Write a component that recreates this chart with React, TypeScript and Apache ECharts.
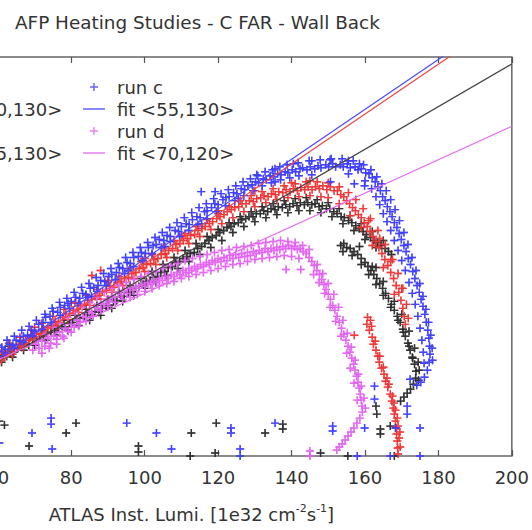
import React, { useEffect, useRef } from "react";
import * as echarts from "echarts";

const FONT = "DejaVu Sans";
const TITLE = "AFP Heating Studies - C FAR - Wall Back";
const X_NAME = "ATLAS Inst. Lumi. [1e32 cm{sup|-2}s{sup|-1}]";
const X_MIN = 20;
const X_MAX = 200;
const X_STEP = 20;
const Y_MIN = 0;
const Y_MAX = 40;

const LEGEND_LEFT = ["run a", "fit <60,130>", "run b", "fit <65,130>"];
const LEGEND_RIGHT = ["run c", "fit <55,130>", "run d", "fit <70,120>"];

// fit lines: value at x = 20 and x = 200
const FIT_X = [20, 200];
const FIT_A = [0.82, 39.3];
const FIT_B = [-0.73, 44.28];
const FIT_C = [-0.25, 44.75];
const FIT_D = [2.92, 33.05];

// run a (black)
const RUN_A: number[][] = [
  [55.2,9.0],[56.3,9.3],[57.4,9.2],[58.5,9.6],[59.3,9.5],[60.4,9.9],[61.5,10.1],[62.4,10.0],[63.5,10.5],[64.3,10.4],
  [65.5,10.8],[66.4,10.9],[67.5,11.2],[68.4,11.1],[69.5,11.6],[70.4,11.7],[71.5,11.9],[72.4,12.0],[73.5,12.3],[74.4,12.4],
  [75.5,12.6],[76.4,12.8],[77.5,13.0],[78.4,12.9],[79.5,13.3],[80.4,13.4],[81.5,13.6],[82.4,13.8],[83.5,13.9],[84.4,14.2],
  [85.5,14.1],[86.4,14.5],[87.5,14.4],[88.4,14.8],[89.5,15.0],[90.4,15.1],[91.5,15.5],[92.4,15.6],[93.5,15.9],[94.4,16.0],
  [95.5,16.4],[96.4,16.5],[97.5,16.8],[98.4,17.0],[99.5,17.2],[100.4,17.5],[101.5,17.6],[102.4,17.9],[103.5,18.0],[104.4,18.4],
  [105.5,18.5],[106.4,18.9],[107.5,19.0],[108.4,19.4],[109.5,19.5],[110.4,19.8],[111.5,20.0],[112.4,20.3],[113.5,20.4],[114.4,20.8],
  [115.5,21.0],[116.4,21.3],[117.5,21.6],[118.4,21.9],[119.5,22.1],[120.4,22.4],[121.5,22.6],[122.4,22.9],[123.5,23.0],[124.4,23.3],
  [125.5,23.4],[126.4,23.7],[127.5,23.8],[128.4,24.0],[129.5,24.0],[130.4,24.3],[131.5,24.3],[132.4,24.6],[133.5,24.5],[134.4,24.8],
  [135.5,24.7],[136.4,25.0],[137.5,24.9],[138.4,25.2],[139.5,25.0],[140.4,25.3],[141.5,25.1],[142.4,25.4],[143.5,25.2],[144.4,25.4],
  [145.5,25.2],[146.4,25.3],[147.5,25.0],[148.4,25.1],[149.5,24.8],[150.4,24.8],[151.5,24.5],[152.4,24.3],[153.5,24.0],[154.4,23.9],
  [155.5,23.6],[156.4,23.4],[157.5,23.1],[158.4,22.8],[159.5,22.5],[160.4,22.2],[161.5,21.9],[162.4,21.6],[163.5,21.4],[164.4,21.1],
  [165.5,20.8],[166.4,20.5],[167.2,20.2],
  [57.0,9.8],[60.0,10.4],[63.0,11.0],[66.0,11.5],[69.0,12.1],[72.0,12.6],[75.0,13.1],[78.0,13.6],[81.0,14.1],[84.0,14.7],
  [87.0,15.1],[90.0,15.7],[93.0,16.4],[96.0,17.1],[99.0,17.8],[102.0,18.5],[105.0,19.2],[108.0,19.9],[111.0,20.6],[114.0,21.3],
  [117.0,22.0],[120.0,22.7],[123.0,23.4],[126.0,24.0],[129.0,24.5],[132.0,25.0],[135.0,25.3],[138.0,25.6],[141.0,25.8],[144.0,25.9],
  [147.0,25.7],[150.0,25.4],[153.0,24.8],[156.0,24.1],[159.0,23.3],[162.0,22.5],[165.0,21.6],
  [58.0,8.8],[61.0,9.4],[64.0,9.9],[67.0,10.6],[70.0,11.1],[73.0,11.6],[76.0,12.1],[79.0,12.6],[82.0,13.1],[85.0,13.6],
  [88.0,14.1],[91.0,14.8],[94.0,15.5],[97.0,16.1],[100.0,16.8],[103.0,17.4],[106.0,18.1],[109.0,18.8],[112.0,19.5],[115.0,20.2],
  [118.0,20.9],[121.0,21.6],[124.0,22.4],[127.0,23.0],[130.0,23.5],[133.0,23.9],[136.0,24.2],[139.0,24.4],[142.0,24.6],[145.0,24.6],
  [148.0,24.4],[151.0,24.0],[154.0,23.3],[157.0,22.6],[160.0,21.7],[163.0,20.9],
  [153.4,21.1],[154.2,21.3],[155.0,20.9],[156.0,20.8],[157.0,20.5],[158.0,20.2],[159.0,19.8],[160.0,19.4],[160.8,19.0],[161.6,18.6],
  [162.4,18.2],[163.2,17.8],[164.0,17.3],[164.8,16.8],[165.6,16.3],[166.4,15.8],[167.2,15.2],[168.0,14.6],[168.8,14.0],[169.6,13.4],
  [170.3,12.7],[171.0,12.0],[171.7,11.3],[172.3,10.6],[172.9,9.9],[173.5,9.2],[173.9,8.5],[173.8,7.8],[173.2,7.2],[172.4,6.7],
  [171.5,6.3],[170.6,5.9],[169.7,5.5],[162.0,19.0],[165.0,17.5],[168.0,15.5],[170.0,14.2],[172.0,12.5],[173.5,10.8],[174.5,9.4],
  [158.5,21.0],[163.0,18.9],[154.0,20.5],[156.5,20.1],[159.0,19.2],[161.0,18.2],[163.0,17.2],[165.0,16.1],[167.0,14.9],[169.0,13.6],
  [170.5,12.4],[172.0,11.0],[173.0,9.8],[174.8,8.6],[174.6,7.6],
  [163.0,5.0],[163.2,4.2],
  [60.4,3.5],[61.8,3.1],[68.5,1.0],[78.6,2.3],[81.3,3.3],[98.3,1.0],[98.3,0.4],[112.7,2.3],[112.4,0.0],[119.5,3.3],
  [119.2,0.3],[132.8,2.3],[137.6,3.2],[137.6,2.7],[147.9,0.3],[155.3,0.0],[164.2,2.7],[166.9,3.0],[168.0,0.0],[164.2,2.2],
];

// run b (red)
const RUN_B: number[][] = [
  [55.3,9.0],[56.5,9.4],[57.4,9.3],[58.6,9.8],[59.5,9.7],[60.4,10.2],[61.6,10.4],[62.5,10.3],[63.6,10.8],[64.4,10.7],
  [65.6,11.2],[66.5,11.1],[67.6,11.6],[68.5,11.8],[69.6,12.0],[70.5,12.3],[71.6,12.2],[72.5,12.7],[73.6,12.9],[74.5,13.0],
  [75.6,13.5],[76.5,13.4],[77.6,13.9],[78.5,14.2],[79.6,14.3],[80.5,14.6],[81.6,14.7],[82.5,15.1],[83.6,15.2],[84.5,15.6],
  [85.6,15.7],[86.5,16.0],[87.6,16.1],[88.5,16.5],[89.6,16.6],[90.5,17.0],[91.6,16.9],[92.5,17.4],[93.6,17.5],[94.5,17.8],
  [95.6,17.9],[96.5,18.3],[97.6,18.4],[98.5,18.8],[99.6,18.9],[100.5,19.2],[101.6,19.3],[102.5,19.7],[103.6,19.8],[104.5,20.2],
  [105.6,20.3],[106.5,20.6],[107.6,20.8],[108.5,21.2],[109.6,21.3],[110.5,21.6],[111.6,21.8],[112.5,22.1],[113.6,22.2],[114.5,22.6],
  [115.6,22.8],[116.5,23.0],[117.6,23.3],[118.5,23.5],[119.6,23.8],[120.5,24.0],[121.6,24.2],[122.5,24.5],[123.6,24.7],[124.5,24.9],
  [125.6,25.0],[126.5,25.3],[127.6,25.3],[128.5,25.6],[129.6,25.5],[130.5,25.8],[131.6,25.9],[132.5,26.1],[133.6,26.0],[134.5,26.3],
  [135.6,26.2],[136.5,26.5],[137.6,26.4],[138.5,26.7],[139.6,26.5],[140.5,26.8],[141.6,26.6],[142.5,26.9],[143.6,26.7],[144.5,27.0],
  [145.6,26.7],[146.5,27.0],[147.6,26.8],[148.5,27.1],[149.6,26.7],[150.5,27.0],[151.6,26.6],[152.5,26.6],[153.4,26.2],[154.2,26.0],
  [155.0,25.6],[155.8,25.3],[156.6,24.9],[157.4,24.6],[158.2,24.2],[159.0,23.9],[159.8,23.4],[160.6,23.0],[161.4,22.5],[162.2,22.0],
  [163.0,21.5],[163.8,20.9],[164.6,20.3],[165.4,19.7],[166.2,19.1],[167.0,18.4],[167.8,17.8],[168.5,17.1],[169.2,16.4],[169.8,15.6],
  [170.3,14.8],[170.7,14.0],[171.0,13.2],
  [150.0,25.9],[153.0,25.3],[156.0,24.1],[159.0,22.9],[162.0,21.1],[165.0,18.9],[168.0,16.2],[161.0,23.6],[164.0,21.8],[167.0,19.5],
  [170.0,16.8],[130.0,26.6],[140.0,27.4],[145.0,27.6],[120.0,24.6],[110.0,22.1],[100.0,19.8],[90.0,17.6],[80.0,15.3],[70.0,12.9],
  [57.0,9.9],[60.0,10.6],[63.0,11.3],[66.0,11.9],[69.0,12.6],[72.0,13.3],[75.0,14.0],[78.0,14.7],[81.0,15.4],[84.0,16.1],
  [87.0,16.7],[90.0,17.4],[93.0,18.0],[96.0,18.8],[99.0,19.5],[102.0,20.2],[105.0,20.9],[108.0,21.6],[111.0,22.3],[114.0,23.0],
  [117.0,23.7],[120.0,24.3],[123.0,25.0],[126.0,25.6],[129.0,26.1],[132.0,26.5],[135.0,26.8],[138.0,27.1],[141.0,27.3],[144.0,27.5],
  [147.0,27.5],[150.0,27.4],[153.0,27.0],[155.5,26.4],[157.5,25.7],[159.5,24.8],[161.5,23.8],[163.5,22.6],[165.5,21.2],[167.5,19.7],
  [169.0,18.3],[170.3,16.8],[171.3,15.2],[171.8,13.8],
  [58.0,8.9],[61.0,9.6],[64.0,10.2],[67.0,10.9],[70.0,11.6],[73.0,12.3],[76.0,13.0],[79.0,13.7],[82.0,14.4],[85.0,15.1],
  [88.0,15.7],[91.0,16.4],[94.0,17.1],[97.0,17.8],[100.0,18.5],[103.0,19.2],[106.0,19.9],[109.0,20.6],[112.0,21.3],[115.0,22.0],
  [118.0,22.7],[121.0,23.3],[124.0,23.9],[127.0,24.5],[130.0,25.0],[133.0,25.4],[136.0,25.7],[139.0,25.9],[142.0,26.0],[145.0,26.1],
  [148.0,26.0],
  [85.6,18.1],[88.0,18.6],[157.1,12.1],
  [160.7,13.9],[160.5,13.2],[161.2,12.6],[161.5,13.6],[162.0,11.9],[162.3,11.2],[163.0,10.6],[163.5,10.0],[163.9,9.4],[164.5,8.8],
  [165.2,8.2],[165.6,7.5],[166.2,6.9],[166.9,6.2],[167.3,5.5],[167.7,4.8],[168.0,4.2],[168.3,3.5],[168.5,2.8],[168.6,2.2],
  [168.8,1.5],[168.9,0.8],[169.0,0.2],[166.0,7.8],[167.5,6.0],[168.3,4.6],[169.0,3.0],[169.3,1.8],
  [161.8,13.0],[162.8,11.5],[164.0,10.0],[165.0,8.9],[166.5,7.2],[167.9,5.3],[168.8,3.8],[169.5,2.4],[169.6,0.9],
];

// run c (blue)
const RUN_C: number[][] = [
  [55.2,9.5],[56.4,9.6],[57.1,10.0],[58.3,9.9],[59.0,10.4],[60.2,10.5],[61.1,10.9],[62.0,10.7],[63.2,11.2],[64.1,11.1],
  [65.0,11.6],[66.2,11.5],[67.0,12.0],[68.1,12.1],[69.2,12.6],[70.0,12.5],[71.1,13.2],[72.3,13.4],[73.0,13.9],[74.2,14.0],
  [75.1,14.5],[76.3,14.4],[77.0,14.9],[78.2,15.1],[79.1,15.3],[80.0,15.5],[81.2,15.9],[82.3,15.8],[83.1,16.3],[84.0,16.2],
  [85.2,16.8],[86.1,16.9],[87.3,17.1],[88.0,17.6],[89.1,17.5],[90.2,18.0],[91.0,18.2],[92.3,18.4],[93.1,18.9],[94.0,18.8],
  [95.2,19.4],[96.1,19.3],[97.0,19.9],[98.3,20.0],[99.1,20.4],[100.2,20.3],[101.0,20.9],[102.3,21.1],[103.1,21.2],[104.0,21.7],
  [105.2,21.6],[106.1,22.1],[107.0,22.0],[108.3,22.6],[109.2,22.5],[110.0,23.0],[111.3,23.3],[112.1,23.2],[113.0,23.7],[114.2,24.0],
  [115.1,23.9],[116.3,24.5],[117.0,24.6],[118.2,24.9],[119.1,25.3],[120.0,25.2],[121.3,25.7],[122.1,25.9],[123.0,26.0],[124.2,26.4],
  [125.1,26.3],[126.3,26.8],[127.2,26.7],[128.1,27.1],[129.3,27.2],[130.2,27.5],[131.0,27.4],[132.3,27.8],[133.1,27.7],[134.2,28.1],
  [135.0,28.0],[136.2,28.3],[137.1,28.2],[138.3,28.5],[139.0,28.4],[140.2,28.7],[141.1,28.5],[142.3,28.8],[143.0,28.9],[144.2,28.7],
  [145.1,29.0],[146.3,28.8],[147.2,29.1],[148.0,28.9],[149.3,29.2],[150.1,29.0],[151.2,29.3],[152.0,29.0],[153.3,29.2],[154.1,29.0],
  [155.2,29.3],[156.0,28.9],[157.3,29.0],[158.1,28.7],[159.0,28.8],[160.2,28.4],[161.1,28.3],[162.0,27.9],[162.8,27.5],[163.5,27.0],
  [164.2,26.6],[164.8,26.0],[165.5,25.6],[166.1,25.0],[166.8,24.5],[167.4,24.0],[168.0,23.4],[168.7,22.9],[169.3,22.3],[169.9,21.7],
  [170.6,21.1],[171.2,20.5],[171.8,19.8],[172.4,19.2],[173.0,18.5],[173.6,17.8],[174.2,17.1],[174.8,16.4],[175.3,15.7],[175.8,15.0],
  [176.3,14.2],[176.7,13.4],[177.1,12.6],[177.4,11.8],[177.6,11.0],[177.7,10.2],[177.5,9.4],[177.0,8.6],[176.2,7.9],[175.2,7.4],
  [174.1,7.1],
  [160.0,27.6],[161.8,26.8],[163.0,26.0],[164.0,25.2],[165.0,24.3],[166.0,23.5],[167.0,22.6],[168.0,21.6],[169.0,20.6],[170.0,19.6],
  [171.0,18.6],[172.0,17.4],[172.9,16.3],[173.7,15.2],[174.4,14.0],[175.0,12.8],[175.5,11.6],[175.9,10.4],[176.1,9.3],
  [130.5,28.2],[135.5,28.8],[140.5,29.3],[145.5,29.6],[150.5,29.7],[155.5,29.6],[158.5,29.3],
  [85.5,16.0],[95.5,18.6],[105.5,21.0],[115.5,23.3],[125.5,25.8],[135.5,27.5],[145.5,28.2],[155.5,28.3],
  [56.0,10.2],[58.0,10.6],[60.0,11.1],[62.5,11.6],[64.5,12.0],[66.5,12.6],[68.5,13.0],[70.5,13.6],[72.8,14.2],[74.8,14.8],
  [76.8,15.4],[78.8,15.8],[80.8,16.4],[82.8,16.9],[84.8,17.3],[86.8,17.9],[88.8,18.3],[90.8,18.8],[92.8,19.3],[94.8,19.9],
  [96.8,20.4],[98.8,20.9],[100.8,21.4],[102.8,21.9],[104.8,22.4],[106.8,22.9],[108.8,23.4],[110.8,23.9],[112.8,24.4],[114.8,24.9],
  [116.8,25.3],[118.8,25.8],[120.8,26.3],[122.8,26.7],[124.8,27.1],[126.8,27.5],[128.8,27.8],[130.8,28.1],[132.8,28.5],[134.8,28.7],
  [136.8,29.0],[138.8,29.2],[141.8,29.4],[144.8,29.6],[147.8,29.7],[150.8,29.8],[153.8,29.8],[156.8,29.6],[159.6,29.2],[161.6,28.7],
  [163.2,28.0],[164.6,27.3],[165.8,26.6],[167.0,25.7],[168.2,24.7],[169.4,23.6],[170.6,22.4],[171.7,21.2],[172.8,19.9],[173.9,18.6],
  [174.9,17.3],[175.8,16.0],[176.6,14.7],[177.3,13.4],[177.9,12.1],[178.3,10.8],[178.4,9.6],
  [57.0,9.2],[59.5,9.8],[62.0,10.3],[64.5,10.8],[67.0,11.4],[69.5,12.0],[72.0,12.7],[74.5,13.4],[77.0,14.1],[79.5,14.8],
  [82.0,15.3],[84.5,15.9],[87.0,16.5],[89.5,17.1],[92.0,17.7],[94.5,18.3],[97.0,19.0],[99.5,19.6],[102.0,20.3],[104.5,20.9],
  [107.0,21.5],[109.5,22.0],[112.0,22.6],[114.5,23.2],[117.0,23.8],[119.5,24.5],[122.0,25.1],[124.5,25.6],[127.0,26.1],[129.5,26.6],
  [132.0,27.1],[134.5,27.4],[137.0,27.7],[139.5,27.9],[142.0,28.1],
  [115.4,26.5],[119.2,26.5],[150.6,27.5],[157.1,27.3],[159.9,27.1],[162.6,7.0],[162.6,5.7],[172.3,7.7],
  [60.4,1.3],[69.3,2.3],[74.5,3.8],[74.5,3.2],[74.8,0.7],[95.1,3.3],[103.2,2.3],[107.3,0.7],[123.5,2.8],[123.5,2.3],
  [126.0,0.7],[126.0,0.0],[135.5,3.3],[151.2,3.0],[151.2,2.5],[157.9,0.0],[159.9,2.8],[166.9,0.0],[168.3,2.8],[171.5,5.0],
  [171.5,4.2],[175.0,2.8],[175.0,0.0],
];

// run d (magenta)
const RUN_D: number[][] = [
  [69.5,10.6],[70.3,11.2],[71.2,10.8],[72.0,11.5],[72.8,11.0],[73.6,11.8],[74.4,11.3],[75.2,12.0],[76.0,11.7],[76.8,12.4],
  [77.6,12.0],[78.4,12.8],[79.2,12.5],[80.0,13.2],[80.8,12.9],[81.6,13.6],[82.4,13.4],[83.2,14.0],[84.0,13.9],[84.8,14.5],
  [85.6,14.3],[86.4,14.9],[87.2,14.8],[88.0,15.3],[88.8,15.2],[89.6,15.7],[90.4,15.5],[91.2,16.0],[92.0,15.9],[92.8,16.4],
  [93.6,16.2],[94.4,16.6],[95.2,16.3],[96.0,16.8],[96.8,16.6],[97.6,17.0],[98.4,16.8],[99.2,17.2],[100.0,17.0],[100.8,17.4],
  [101.6,17.2],[102.4,17.6],[103.2,17.4],[104.0,17.8],[104.8,17.6],[105.6,18.0],[106.4,17.8],[107.2,18.2],[108.0,18.0],[108.8,18.4],
  [109.6,18.2],[110.4,18.6],[111.2,18.4],[112.0,18.8],[112.8,18.6],[113.6,19.0],[114.4,18.8],[115.2,19.2],[116.0,19.0],[116.8,19.4],
  [117.6,19.2],[118.4,19.6],[119.2,19.4],[120.0,19.8],[120.8,19.5],[121.6,19.9],[122.4,19.6],[123.2,20.1],[124.0,19.8],[124.8,20.2],
  [125.6,19.9],[126.4,20.3],[127.2,20.0],[128.0,20.4],[128.8,20.1],[129.6,20.5],[130.4,20.3],[131.2,20.6],[132.0,20.4],[132.8,20.8],
  [133.6,20.5],[134.4,20.8],[135.2,20.6],[136.0,20.9],[136.8,20.7],[137.6,21.0],[138.4,20.8],[139.2,21.1],[140.0,20.8],[140.8,21.0],
  [141.6,20.7],[142.4,20.8],[143.2,20.5],[144.0,20.3],[144.8,19.9],[145.5,19.5],[146.2,19.1],[146.9,18.6],[147.6,18.2],[148.2,17.7],
  [148.8,17.2],[149.4,16.7],[150.0,16.2],[150.6,15.7],[151.2,15.1],[151.8,14.6],[152.4,14.0],[153.0,13.4],[153.6,12.8],[154.2,12.2],
  [154.8,11.6],[155.4,11.0],[155.9,10.4],[156.4,9.8],[156.9,9.2],[157.3,8.6],[157.7,8.0],[158.1,7.4],[158.4,6.8],[158.7,6.2],
  [159.0,5.6],[159.2,5.0],[159.3,4.4],[158.6,3.8],[157.8,3.3],[157.0,2.8],[156.2,2.4],[155.4,2.0],[154.6,1.6],[153.8,1.2],
  [153.0,0.9],[152.3,0.6],
  [147.0,19.2],[148.5,18.3],[150.0,17.3],[151.5,16.2],[152.8,14.9],[154.0,13.6],[155.2,12.3],[156.3,10.9],[157.3,9.6],[158.2,8.2],
  [159.0,7.0],[159.7,5.8],[160.1,4.8],[146.0,18.2],[147.5,17.4],[149.0,16.3],[150.5,14.9],[152.0,13.5],[153.5,12.0],[155.0,10.3],
  [156.0,8.8],[157.0,7.3],[157.9,5.6],
  [71.0,11.6],[73.0,12.2],[75.0,12.9],[77.0,13.3],[79.0,13.9],[81.0,14.4],[83.0,14.9],[85.0,15.4],[87.0,15.9],[89.0,16.4],
  [91.0,16.8],[93.0,17.1],[95.0,17.4],[97.0,17.7],[99.0,18.0],[101.0,18.3],[103.0,18.5],[105.0,18.8],[107.0,19.1],[109.0,19.3],
  [111.0,19.6],[113.0,19.8],[115.0,20.0],[117.0,20.2],[119.0,20.4],[121.0,20.6],[123.0,20.7],[125.0,20.9],[127.0,21.0],[129.0,21.1],
  [131.0,21.3],[133.0,21.4],[135.0,21.5],[137.0,21.6],[139.0,21.5],[141.0,21.4],[143.0,21.1],[144.8,20.7],
  [72.0,10.3],[74.0,10.8],[76.0,11.2],[78.0,11.8],[80.0,12.4],[82.0,13.0],[84.0,13.5],[86.0,14.0],[88.0,14.6],[90.0,15.0],
  [92.0,15.4],[94.0,15.7],[96.0,15.9],[98.0,16.2],[100.0,16.5],[102.0,16.8],[104.0,17.1],[106.0,17.3],[108.0,17.5],[110.0,17.8],
  [112.0,18.0],[114.0,18.2],[116.0,18.4],[118.0,18.6],[120.0,18.8],[122.0,19.0],[124.0,19.2],[126.0,19.3],[128.0,19.5],[130.0,19.7],
  [132.0,19.8],[134.0,19.9],[136.0,20.0],[138.0,20.1],[140.0,20.0],[142.0,19.8],
  [138.5,18.7],[142.5,18.7],[145.0,0.5],[145.0,0.0],
];

const PLUS = "path://M3.3,0H4.7V3.3H8V4.7H4.7V8H3.3V4.7H0V3.3H3.3Z";
const DASH = "path://M0,0H22V1.3H0Z";

const COL_A = "#2a2a2a";
const COL_B = "#f03232";
const COL_C = "#3c3cff";
const COL_D = "#e262f2";

function scatter(name: string, data: number[][], color: string) {
  return {
    type: "scatter",
    name,
    data,
    symbol: PLUS,
    symbolSize: 8,
    itemStyle: { color, shadowBlur: 1.5, shadowColor: color },
    silent: true,
  };
}

function fitLine(name: string, ys: number[], color: string) {
  return {
    type: "line",
    name,
    data: FIT_X.map((x, i) => [x, ys[i]]),
    showSymbol: false,
    symbol: "none",
    clip: true,
    lineStyle: { color, width: 1.2 },
    itemStyle: { color },
    silent: true,
  };
}

function legendData(names: string[]) {
  return names.map((n, i) => ({ name: n, icon: i % 2 === 0 ? PLUS : DASH }));
}

export default function App() {
  const ref = useRef<HTMLDivElement>(null);
  useEffect(() => {
    if (!ref.current) return;
    const chart = echarts.init(ref.current, undefined, { renderer: "svg" });
    const legendBase = {
      orient: "vertical",
      top: 77,
      padding: 0,
      itemWidth: 22,
      itemHeight: 8,
      itemGap: 2,
      selectedMode: false,
      textStyle: {
        fontSize: 18,
        color: "#333",
        fontFamily: FONT,
        lineHeight: 20,
        padding: [0, 0, 0, 7],
      },
    };
    chart.setOption({
      animation: false,
      backgroundColor: "#fff",
      textStyle: { fontFamily: FONT },
      title: {
        text: TITLE,
        left: 180,
        top: 6,
        padding: 5,
        textStyle: { fontSize: 18.4, fontWeight: "normal", color: "#333", fontFamily: FONT, lineHeight: 22 },
      },
      legend: [
        { ...legendBase, left: 81, data: legendData(LEGEND_LEFT) },
        { ...legendBase, left: 253, data: legendData(LEGEND_RIGHT) },
      ],
      grid: {
        left: 21,
        right: 17,
        top: 57,
        bottom: 69.5,
        show: true,
        borderColor: "#666",
        borderWidth: 1.5,
        backgroundColor: "transparent",
      },
      xAxis: [
        {
          type: "value",
          min: X_MIN,
          max: X_MAX,
          interval: X_STEP,
          position: "bottom",
          splitLine: { show: false },
          axisLine: { show: false },
          axisTick: { show: true, inside: true, length: 6, lineStyle: { color: "#555", width: 1.2 } },
          axisLabel: { fontSize: 18, color: "#333", margin: 12, fontFamily: FONT },
          name: X_NAME,
          nameLocation: "middle",
          nameGap: 47,
          nameTextStyle: {
            fontSize: 18,
            color: "#333",
            fontFamily: FONT,
            lineHeight: 22,
            padding: [0, 0, 0, 20],
            rich: {
              sup: { fontSize: 11, lineHeight: 12, verticalAlign: "top", color: "#333", fontFamily: FONT },
            },
          },
        },
        {
          type: "value",
          min: X_MIN,
          max: X_MAX,
          interval: X_STEP,
          position: "top",
          splitLine: { show: false },
          axisLine: { show: false },
          axisTick: { show: true, inside: true, length: 6, lineStyle: { color: "#555", width: 1.2 } },
          axisLabel: { show: false },
        },
      ],
      yAxis: {
        type: "value",
        min: Y_MIN,
        max: Y_MAX,
        splitLine: { show: false },
        axisLine: { show: false },
        axisTick: { show: false },
        axisLabel: { show: false },
      },
      series: [
        scatter(LEGEND_LEFT[0], RUN_A, COL_A),
        fitLine(LEGEND_LEFT[1], FIT_A, "#444"),
        scatter(LEGEND_LEFT[2], RUN_B, COL_B),
        fitLine(LEGEND_LEFT[3], FIT_B, "#f04545"),
        scatter(LEGEND_RIGHT[0], RUN_C, COL_C),
        fitLine(LEGEND_RIGHT[1], FIT_C, "#4a4aff"),
        scatter(LEGEND_RIGHT[2], RUN_D, COL_D),
        fitLine(LEGEND_RIGHT[3], FIT_D, "#e468f2"),
      ],
    });
    return () => chart.dispose();
  }, []);
  return (
    <div
      ref={ref}
      style={{ position: "absolute", left: -170, top: 0, width: 702, height: 530 }}
    />
  );
}
